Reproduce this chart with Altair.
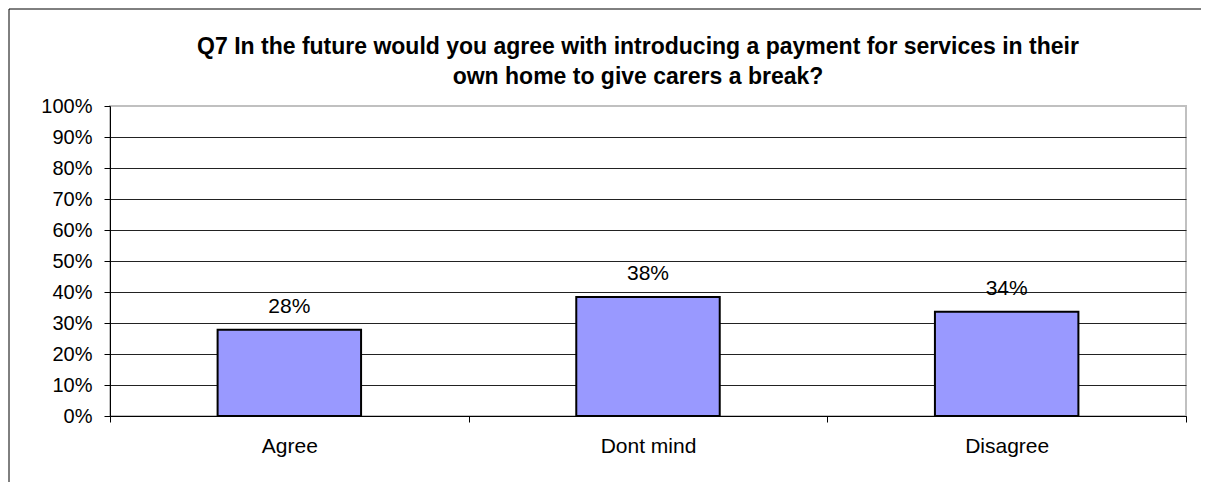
import altair as alt
import pandas as pd

categories = ["Agree", "Dont mind", "Disagree"]
shares = [0.278, 0.384, 0.336]
labels = ["28%", "38%", "34%"]
title_lines = [
    "Q7 In the future would you agree with introducing a payment for services in their",
    "own home to give carers a break?",
]
y_ticks = [0.0, 0.1, 0.2, 0.3, 0.4, 0.5, 0.6, 0.7, 0.8, 0.9, 1.0]

FONT = "Liberation Sans"
W, H = 1076, 310

df = pd.DataFrame({"category": categories, "share": shares, "label": labels})

x_enc = alt.X(
    "category:N",
    sort=categories,
    scale=alt.Scale(paddingInner=0, paddingOuter=0),
    axis=alt.Axis(
        title=None,
        labelAngle=0,
        tickBand="extent",
        grid=False,
        domainColor="black",
        tickColor="black",
        tickSize=6,
        labelFont=FONT,
        labelFontSize=21,
        labelColor="black",
        labelBaseline="alphabetic",
        labelPadding=30,
    ),
)
y_enc = alt.Y(
    "share:Q",
    scale=alt.Scale(domain=[0, 1], nice=False),
    axis=alt.Axis(
        title=None,
        values=y_ticks,
        format=".0%",
        labelOverlap=False,
        grid=True,
        gridColor=alt.condition("datum.value >= 1", alt.value("#c0c0c0"), alt.value("#222222")),
        gridWidth=1,
        domainColor="black",
        tickColor="black",
        tickSize=6,
        labelFont=FONT,
        labelFontSize=20,
        labelColor="black",
        labelPadding=12,
    ),
)

one = alt.Data(values=[{"k": 1}])

border = alt.Chart(one).mark_rect(
    filled=False, stroke="black", strokeWidth=1
).encode(
    x=alt.value(-101), x2=alt.value(W + 200), y=alt.value(-97), y2=alt.value(H + 200)
)

title = alt.Chart(one).mark_text(
    font=FONT, fontSize=23, fontWeight="bold", color="black",
    align="center", baseline="alphabetic", lineHeight=30,
).encode(
    text=alt.value(title_lines), x=alt.value(W / 2 - 10), y=alt.value(-52)
)

bars = alt.Chart(df).mark_bar(
    fill="#9999FF", stroke="black", strokeWidth=2, width=alt.RelativeBandSize(0.4)
).encode(x=x_enc, y=y_enc)

text = alt.Chart(df).mark_text(
    baseline="alphabetic", dy=-17, fontSize=21, font=FONT, color="black"
).encode(x=x_enc, y=y_enc, text="label:N")

chart = alt.layer(border, title, bars, text).properties(
    width=W,
    height=H,
    autosize=alt.AutoSizeParams(type="none"),
    padding={"left": 102, "top": 98, "right": 15, "bottom": 66},
).configure_view(stroke="#c0c0c0", strokeWidth=2)

chart.save("out.html", embed_options={"renderer": "svg", "actions": False})
